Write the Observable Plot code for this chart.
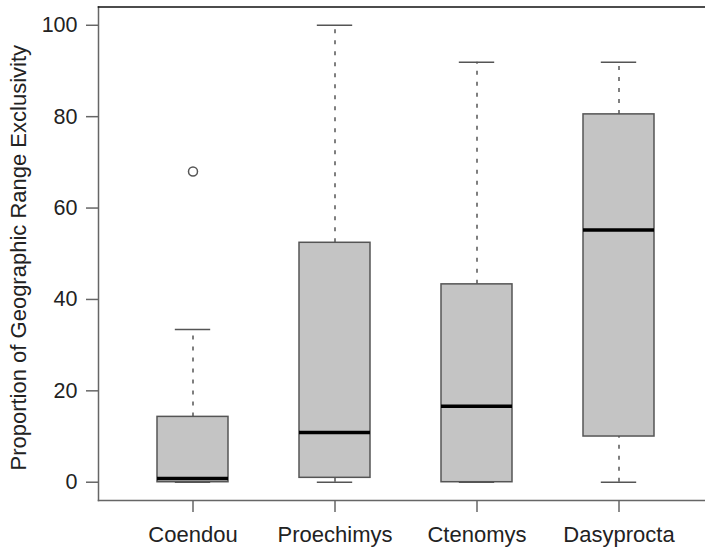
<!DOCTYPE html>
<html>
<head>
<meta charset="utf-8">
<script src="https://cdn.jsdelivr.net/npm/d3@7"></script>
<script src="https://cdn.jsdelivr.net/npm/@observablehq/plot@0.6"></script>
<style>
  html, body { margin: 0; padding: 0; background: #fff; }
  #chart svg { display: block; }
</style>
</head>
<body>
<div id="chart"></div>
<script>
// Box-plot summaries of geographic range exclusivity per genus (%)
const species = ["Coendou", "Proechimys", "Ctenomys", "Dasyprocta"];
const whiskerLow  = [0, 0, 0, 0];
const q1          = [0, 0.96, 0, 10.0];
const median      = [0.8, 10.9, 16.6, 55.2];
const q3          = [14.3, 52.4, 43.3, 80.5];
const whiskerHigh = [33.4, 100, 91.9, 91.9];
const outlierSpecies = ["Coendou"];
const outlierValues  = [68.0];
const yTicks = [0, 20, 40, 60, 80, 100];
const yLabel = "Proportion of Geographic Range Exclusivity";

const boxes = species.map((s, i) => ({
  species: s, lo: whiskerLow[i], q1: q1[i], med: median[i], q3: q3[i], hi: whiskerHigh[i]
}));
const outliers = outlierSpecies.map((s, i) => ({species: s, value: outlierValues[i]}));

const W = 705, H = 549;
const mL = 98, mT = 6.5, mB = 49;
const axisColor = "#666";
const font = "'Liberation Sans', Arial, Helvetica, sans-serif";

// band scale: box width is half the category step; x domain padded like base graphics
const step = 142.5;
const xRange = [mL, mL + step * (4 - 0.5 + 2 * 0.41)];
const capInset = step * 0.5 / 4;

const chart = Plot.plot({
  width: W,
  height: H,
  marginLeft: mL,
  marginTop: mT,
  marginBottom: mB,
  marginRight: 0,
  style: {fontFamily: font, fontSize: "21px", color: "#222", background: "#fff"},
  x: {domain: species, range: xRange, paddingInner: 0.5, paddingOuter: 0.41, axis: null},
  y: {domain: [-4, 104], axis: null},
  marks: [
    // plot region edges
    Plot.frame({anchor: "left", stroke: axisColor, strokeWidth: 1.5}),
    Plot.frame({anchor: "bottom", stroke: axisColor, strokeWidth: 1.5}),
    Plot.frame({anchor: "top", stroke: "#111", strokeWidth: 1.6}),
    // dashed whiskers
    Plot.ruleX(boxes, {x: "species", y1: "q3", y2: "hi", stroke: "#555", strokeWidth: 1.5, strokeDasharray: "4,7"}),
    Plot.ruleX(boxes, {x: "species", y1: "lo", y2: "q1", stroke: "#555", strokeWidth: 1.5, strokeDasharray: "4,7"}),
    // whisker caps
    Plot.tickY(boxes, {x: "species", y: "hi", stroke: "#555", strokeWidth: 1.5, insetLeft: capInset, insetRight: capInset}),
    Plot.tickY(boxes, {x: "species", y: "lo", stroke: "#555", strokeWidth: 1.5, insetLeft: capInset, insetRight: capInset}),
    // interquartile boxes
    Plot.rectY(boxes, {x: "species", y1: "q1", y2: "q3", fill: "#c4c4c4", stroke: "#555", strokeWidth: 1.5}),
    // medians
    Plot.tickY(boxes, {x: "species", y: "med", stroke: "#000", strokeWidth: 3.5}),
    // outliers
    Plot.dot(outliers, {x: "species", y: "value", r: 4.5, stroke: "#555", strokeWidth: 1.5, fill: "#fff"}),
    // axes
    Plot.axisY(yTicks, {anchor: "left", tickSize: 12, tickPadding: 9, stroke: axisColor, strokeWidth: 1.5, fontSize: 21.5, fill: "#222", label: null}),
    Plot.axisX(species, {anchor: "bottom", tickSize: 12, tickPadding: 14, stroke: axisColor, strokeWidth: 1.5, fontSize: 22, fill: "#222", label: null}),
    Plot.text([yLabel], {frameAnchor: "left", textAnchor: "middle", dx: -80, dy: 4, rotate: -90, fontSize: 22, fill: "#222"})
  ]
});

document.getElementById("chart").appendChild(chart);
</script>
</body>
</html>
